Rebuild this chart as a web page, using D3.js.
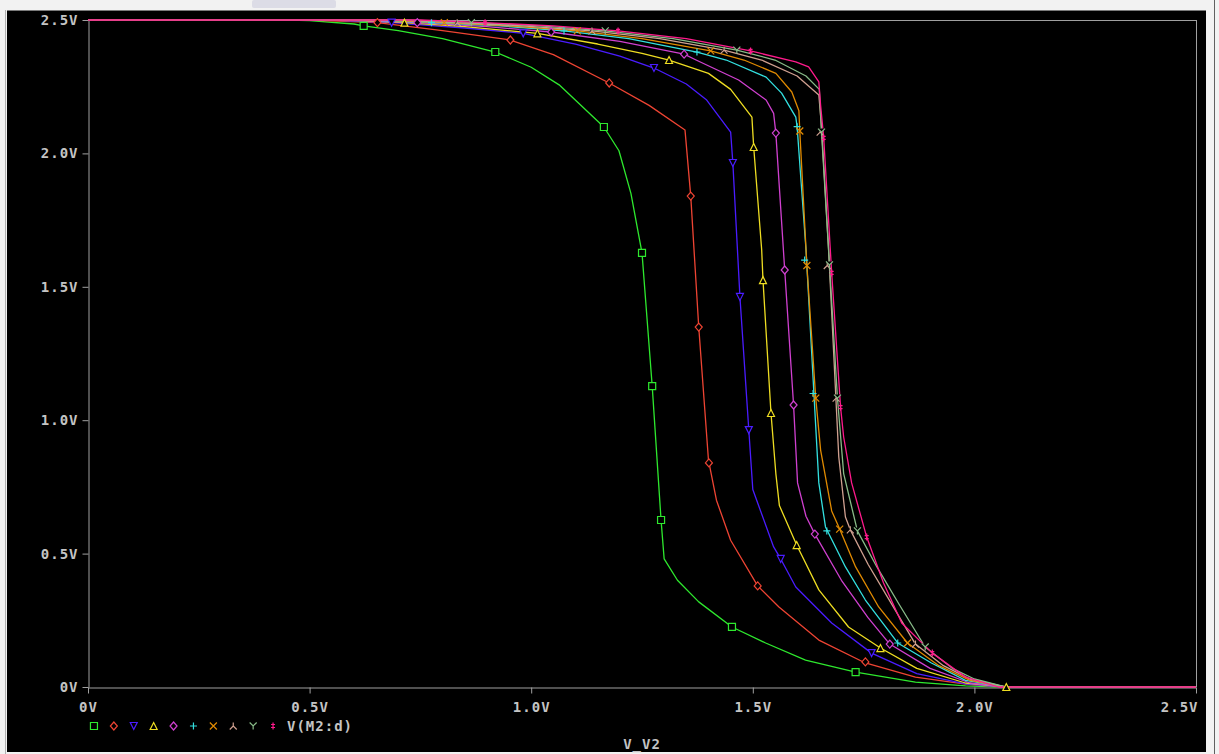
<!DOCTYPE html>
<meta charset="utf-8">
<head>
    <style>
        body { margin: 0; background: #f2f2f2; }
        .tick text {
            font-family: "DejaVu Sans Mono", monospace;
            font-weight: bold;
            font-size: 14px;
            fill: #c4c4c4;
            letter-spacing: 1px;
        }
        .lbl {
            font-family: "DejaVu Sans Mono", monospace;
            font-weight: bold;
            font-size: 14px;
            fill: #c4c4c4;
            letter-spacing: 1px;
        }
        .trace { fill: none; stroke-width: 1.3; stroke-linejoin: round; }
    </style>
    <script src="https://d3js.org/d3.v7.min.js"></script>
</head>
<body>
<svg id="plot"></svg>
<script>

    // tick values / labels
    var xTicks = [0, 0.5, 1.0, 1.5, 2.0, 2.5];
    var xTickLabels = ["0V", "0.5V", "1.0V", "1.5V", "2.0V", "2.5V"];
    var yTicks = [0, 0.5, 1.0, 1.5, 2.0, 2.5];
    var yTickLabels = ["0V", "0.5V", "1.0V", "1.5V", "2.0V", "2.5V"];

    // trace styles (PSpice order)
    var traceColors = ["#2ee82e", "#ee4433", "#4a1cff", "#eedd22", "#d040d0",
                       "#33e0e0", "#e08a00", "#d0a090", "#88bb88", "#ff1a8c"];
    var traceShapes = ["square", "diamond", "tridown", "triup", "diamond",
                       "plus", "cross", "lambda", "wye", "dagger"];
    var traceName = "V(M2:d)";
    var xTitle = "V_V2";

    // V(M2:d) vs V_V2, one sweep per trace
    var s1 = [[0,2.5],[0.45,2.5],[0.5,2.498],[0.6,2.485],[0.622,2.478],[0.7,2.46],[0.8,2.43],[0.919,2.38],[1.0,2.323],[1.063,2.257],[1.164,2.099],[1.198,2.01],[1.225,1.85],[1.25,1.627],[1.273,1.128],[1.293,0.626],[1.30,0.48],[1.33,0.40],[1.378,0.319],[1.453,0.225],[1.529,0.165],[1.619,0.101],[1.732,0.056],[1.867,0.018],[1.98,0.004],[2.06,0],[2.5,0]];
    var s2 = [[0,2.5],[0.5,2.5],[0.653,2.49],[0.8,2.46],[0.953,2.425],[1.05,2.37],[1.176,2.264],[1.266,2.18],[1.347,2.088],[1.36,1.84],[1.378,1.35],[1.40,0.85],[1.418,0.70],[1.45,0.55],[1.511,0.379],[1.559,0.30],[1.649,0.176],[1.754,0.09],[1.867,0.037],[1.98,0.011],[2.065,0],[2.5,0]];
    var s3 = [[0,2.5],[0.55,2.5],[0.685,2.49],[0.85,2.47],[0.982,2.45],[1.1,2.41],[1.2,2.365],[1.277,2.32],[1.35,2.26],[1.396,2.2],[1.45,2.08],[1.455,1.964],[1.471,1.462],[1.491,0.963],[1.50,0.74],[1.547,0.525],[1.563,0.48],[1.597,0.375],[1.678,0.24],[1.768,0.127],[1.87,0.05],[1.98,0.012],[2.065,0],[2.5,0]];
    var s4 = [[0,2.5],[0.58,2.5],[0.714,2.49],[0.85,2.475],[1.014,2.45],[1.15,2.41],[1.25,2.375],[1.311,2.35],[1.40,2.30],[1.45,2.24],[1.498,2.136],[1.502,2.024],[1.52,1.64],[1.523,1.525],[1.541,1.027],[1.552,0.80],[1.56,0.68],[1.599,0.532],[1.649,0.364],[1.716,0.225],[1.788,0.146],[1.87,0.07],[1.98,0.015],[2.072,0],[2.5,0]];
    var s5 = [[0,2.5],[0.6,2.5],[0.743,2.49],[0.9,2.475],[1.045,2.455],[1.2,2.42],[1.345,2.372],[1.372,2.35],[1.468,2.275],[1.53,2.2],[1.547,2.15],[1.552,2.076],[1.572,1.563],[1.592,1.057],[1.601,0.765],[1.62,0.64],[1.64,0.573],[1.70,0.40],[1.76,0.26],[1.809,0.161],[1.90,0.07],[1.99,0.015],[2.07,0],[2.5,0]];
    var s6 = [[0,2.5],[0.63,2.5],[0.775,2.49],[0.93,2.478],[1.074,2.459],[1.22,2.43],[1.374,2.38],[1.44,2.35],[1.53,2.286],[1.565,2.226],[1.597,2.136],[1.60,2.10],[1.62,1.64],[1.649,0.765],[1.664,0.60],[1.709,0.45],[1.754,0.326],[1.827,0.165],[1.903,0.09],[1.98,0.025],[2.07,0],[2.5,0]];
    var s7 = [[0,2.5],[0.66,2.5],[0.804,2.49],[0.95,2.478],[1.104,2.459],[1.25,2.43],[1.405,2.384],[1.48,2.35],[1.552,2.30],[1.588,2.23],[1.604,2.16],[1.606,2.084],[1.622,1.58],[1.642,1.083],[1.653,0.888],[1.678,0.66],[1.696,0.592],[1.732,0.45],[1.784,0.30],[1.849,0.165],[1.92,0.08],[1.99,0.025],[2.07,0],[2.5,0]];
    var s8 = [[0,2.5],[0.69,2.5],[0.833,2.49],[0.98,2.478],[1.137,2.459],[1.29,2.43],[1.435,2.387],[1.52,2.35],[1.60,2.29],[1.649,2.219],[1.655,2.10],[1.671,1.64],[1.694,0.862],[1.709,0.637],[1.72,0.589],[1.76,0.46],[1.81,0.32],[1.867,0.161],[1.93,0.08],[1.99,0.03],[2.07,0],[2.5,0]];
    var s9 = [[0,2.5],[0.72,2.5],[0.865,2.49],[1.02,2.478],[1.167,2.459],[1.32,2.43],[1.464,2.387],[1.55,2.35],[1.62,2.29],[1.65,2.24],[1.655,2.08],[1.673,1.582],[1.691,1.083],[1.705,0.80],[1.736,0.585],[1.78,0.45],[1.83,0.31],[1.889,0.15],[1.95,0.07],[2.0,0.03],[2.07,0],[2.5,0]];
    var s10 = [[0,2.5],[0.75,2.5],[0.896,2.49],[1.05,2.478],[1.196,2.459],[1.35,2.43],[1.495,2.384],[1.597,2.343],[1.626,2.324],[1.649,2.268],[1.653,2.18],[1.66,2.058],[1.678,1.552],[1.698,1.049],[1.705,0.937],[1.723,0.765],[1.757,0.562],[1.795,0.39],[1.836,0.24],[1.905,0.127],[1.98,0.037],[2.055,0],[2.5,0]];

    // marker points on each trace
    var m1 = [[0.622,2.478],[0.919,2.38],[1.164,2.099],[1.25,1.627],[1.273,1.128],[1.293,0.626],[1.453,0.225],[1.732,0.056]];
    var m2 = [[0.653,2.49],[0.953,2.425],[1.176,2.264],[1.36,1.84],[1.378,1.349],[1.401,0.84],[1.511,0.379],[1.754,0.094]];
    var m3 = [[0.685,2.49],[0.982,2.45],[1.277,2.32],[1.455,1.964],[1.471,1.462],[1.491,0.963],[1.563,0.48],[1.768,0.127]];
    var m4 = [[0.714,2.49],[1.014,2.45],[1.311,2.35],[1.502,2.024],[1.523,1.525],[1.541,1.027],[1.599,0.532],[1.788,0.146],[2.072,0]];
    var m5 = [[0.743,2.49],[1.045,2.455],[1.345,2.372],[1.552,2.076],[1.572,1.563],[1.592,1.057],[1.64,0.573],[1.809,0.161]];
    var m6 = [[0.775,2.49],[1.074,2.459],[1.374,2.38],[1.60,2.10],[1.617,1.60],[1.636,1.10],[1.667,0.585],[1.827,0.165]];
    var m7 = [[0.804,2.49],[1.104,2.459],[1.405,2.384],[1.606,2.084],[1.622,1.58],[1.642,1.083],[1.696,0.592],[1.849,0.165]];
    var m8 = [[0.833,2.49],[1.137,2.459],[1.435,2.387],[1.652,2.08],[1.668,1.58],[1.688,1.083],[1.72,0.589],[1.867,0.161]];
    var m9 = [[0.865,2.49],[1.167,2.459],[1.464,2.387],[1.655,2.08],[1.673,1.582],[1.691,1.083],[1.736,0.585],[1.889,0.15]];
    var m10 = [[0.896,2.49],[1.196,2.459],[1.495,2.384],[1.66,2.058],[1.678,1.552],[1.698,1.049],[1.757,0.562],[1.905,0.127]];

    var traces = [s1, s2, s3, s4, s5, s6, s7, s8, s9, s10];
    var markers = [m1, m2, m3, m4, m5, m6, m7, m8, m9, m10];

    var width = 1219, height = 754;
    var margin = {top: 20, right: 21, bottom: 67, left: 88};

    var svg = d3.select("#plot")
        .attr("width", width)
        .attr("height", height);

    // window chrome
    svg.append("rect").attr("width", width).attr("height", height).attr("fill", "#f2f2f2");
    svg.append("rect").attr("x", 252).attr("y", 0).attr("width", 84).attr("height", 8)
        .attr("fill", "#dcdce6").attr("rx", 2);
    svg.append("rect").attr("x", 7).attr("y", 10).attr("width", 1199).attr("height", 742).attr("fill", "#000");
    svg.append("line").attr("x1", 7).attr("x2", 1206).attr("y1", 10.5).attr("y2", 10.5).attr("stroke", "#7a7a7a");
    svg.append("line").attr("x1", 5.5).attr("x2", 5.5).attr("y1", 10).attr("y2", 754).attr("stroke", "#b0b0b0");
    svg.append("line").attr("x1", 1214.5).attr("x2", 1214.5).attr("y1", 0).attr("y2", 754).attr("stroke", "#606060");

    var x = d3.scaleLinear().domain([0, 2.5]).range([margin.left, width - margin.right - 2]);
    var y = d3.scaleLinear().domain([0, 2.5]).range([height - margin.bottom, margin.top]);

    // frame top + right
    svg.append("line").attr("x1", x(0)).attr("x2", x(2.5)).attr("y1", y(2.5) + 0.5).attr("y2", y(2.5) + 0.5)
        .attr("stroke", "#a0a0a0");
    svg.append("line").attr("x1", x(2.5) + 0.5).attr("x2", x(2.5) + 0.5).attr("y1", y(2.5)).attr("y2", y(0))
        .attr("stroke", "#a0a0a0");

    var xAxis = svg.append("g")
        .attr("transform", "translate(0," + (y(0) + 0.5) + ")")
        .call(d3.axisBottom(x).tickValues(xTicks)
            .tickFormat(function(d, i){ return xTickLabels[i]; })
            .tickSize(6).tickSizeOuter(0).tickPadding(9));
    xAxis.selectAll("text").filter(function(d){ return d == 2.5; })
        .attr("text-anchor", "end").attr("x", 2);

    var yAxis = svg.append("g")
        .attr("transform", "translate(" + (x(0) + 0.5) + ",0)")
        .call(d3.axisLeft(y).tickValues(yTicks)
            .tickFormat(function(d, i){ return yTickLabels[i]; })
            .tickSize(6).tickSizeOuter(0).tickPadding(4));

    svg.selectAll(".domain, .tick line").attr("stroke", "#a0a0a0");

    var line = d3.line()
        .x(function(d){ return x(d[0]); })
        .y(function(d){ return y(d[1]); });

    svg.append("g").selectAll("path")
        .data(traces)
        .enter()
        .append("path")
        .attr("class", "trace")
        .attr("d", line)
        .attr("stroke", function(d, i){ return traceColors[i]; });

    function shapePath(kind) {
        var s = 3.5;
        switch (kind) {
            case "square":  return "M" + (-s) + "," + (-s) + "h" + 2*s + "v" + 2*s + "h" + (-2*s) + "Z";
            case "diamond": return "M0," + (-s-0.5) + "L" + s + ",0L0," + (s+0.5) + "L" + (-s) + ",0Z";
            case "tridown": return "M" + (-s) + "," + (-s) + "L" + s + "," + (-s) + "L0," + s + "Z";
            case "triup":   return "M0," + (-s) + "L" + s + "," + s + "L" + (-s) + "," + s + "Z";
            case "plus":    return "M" + (-s) + ",0H" + s + "M0," + (-s) + "V" + s;
            case "cross":   return "M" + (-s) + "," + (-s) + "L" + s + "," + s + "M" + s + "," + (-s) + "L" + (-s) + "," + s;
            case "lambda":  return "M0," + (-s) + "V0L" + (-s) + "," + s + "M0,0L" + s + "," + s;
            case "wye":     return "M" + (-s) + "," + (-s) + "L0,0L" + s + "," + (-s) + "M0,0V" + s;
            case "dagger":  return "M0," + (-s) + "V" + s + "M-2,-1.5H2M-2,1.5H2";
        }
    }

    markers.forEach(function(pts, i){
        svg.append("g").selectAll("path")
            .data(pts)
            .enter()
            .append("path")
            .attr("transform", function(d){ return "translate(" + x(d[0]) + "," + y(d[1]) + ")"; })
            .attr("d", shapePath(traceShapes[i]))
            .attr("fill", "#000")
            .attr("stroke", traceColors[i])
            .attr("stroke-width", 1.2);
    });

    // legend row
    var legendX = d3.scaleBand().domain(d3.range(traceColors.length)).range([84, 283]);
    svg.append("g").selectAll("path")
        .data(traceColors)
        .enter()
        .append("path")
        .attr("transform", function(d, i){ return "translate(" + (legendX(i) + legendX.bandwidth() / 2) + ",726)"; })
        .attr("d", function(d, i){ return shapePath(traceShapes[i]); })
        .attr("fill", "#000")
        .attr("stroke", function(d){ return d; })
        .attr("stroke-width", 1.2);

    svg.append("text").attr("class", "lbl")
        .attr("x", 287).attr("y", 731)
        .text(traceName);

    svg.append("text").attr("class", "lbl")
        .attr("x", (x(0) + x(2.5)) / 2).attr("y", 749)
        .attr("text-anchor", "middle")
        .text(xTitle);

</script>
</body>
